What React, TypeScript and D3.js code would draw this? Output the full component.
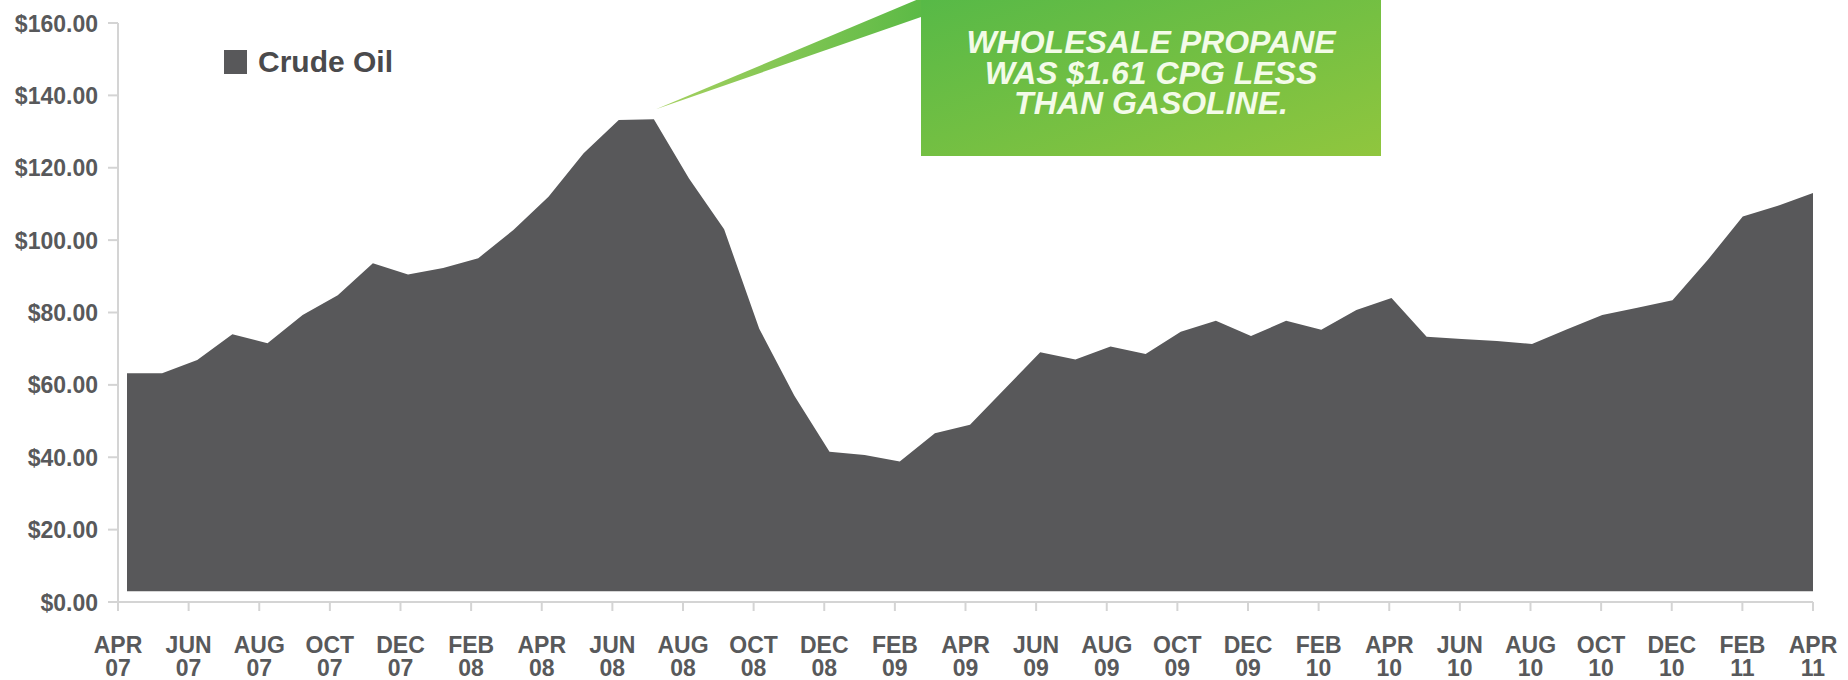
import React from "react";
import * as d3 from "d3";

// ---- data (monthly, APR 2007 .. APR 2011) ----
const CRUDE_OIL: number[] = [
  63.2, 63.2, 66.9, 74.0, 71.5, 79.3, 84.8, 93.6, 90.5, 92.3, 95.0, 102.8,
  112.0, 124.0, 133.2, 133.4, 117.0, 103.0, 75.5, 57.0, 41.5, 40.6, 38.8, 46.6,
  49.0, 59.0, 69.0, 67.0, 70.6, 68.5, 74.7, 77.7, 73.5, 77.7, 75.2, 80.7,
  84.0, 73.3, 72.7, 72.1, 71.3, 75.4, 79.3, 81.3, 83.4, 94.5, 106.5, 109.5,
  113.0,
];
const TICK_MONTHS: string[] = [
  "APR", "JUN", "AUG", "OCT", "DEC", "FEB", "APR", "JUN", "AUG", "OCT", "DEC", "FEB",
  "APR", "JUN", "AUG", "OCT", "DEC", "FEB", "APR", "JUN", "AUG", "OCT", "DEC", "FEB", "APR",
];
const TICK_YEARS: string[] = [
  "07", "07", "07", "07", "07", "08", "08", "08", "08", "08", "08", "09",
  "09", "09", "09", "09", "09", "10", "10", "10", "10", "10", "10", "11", "11",
];
const Y_TICKS: number[] = [0, 20, 40, 60, 80, 100, 120, 140, 160];
const LEGEND_LABEL = "Crude Oil";
const CALLOUT_LINES: string[] = [
  "WHOLESALE PROPANE",
  "WAS $1.61 CPG LESS",
  "THAN GASOLINE.",
];
const CALLOUT_INDEX = 15; // JUL 08 peak
const AREA_BASE = 3;

const W = 1848;
const H = 680;
const FONT = "'Liberation Sans', Arial, Helvetica, sans-serif";
const AREA_COLOR = "#58585a";
const TEXT_COLOR = "#58595b";
const AXIS_COLOR = "#d4d4d4";

export default function App() {
  const n = CRUDE_OIL.length - 1;
  const y = d3.scaleLinear().domain([0, 160]).range([602, 23]);
  const xTick = d3.scaleLinear().domain([0, n]).range([118, 1813]);
  const xData = d3.scaleLinear().domain([0, n]).range([127, 1813]);

  const area = d3
    .area<number>()
    .x((_, i) => xData(i))
    .y0(y(AREA_BASE))
    .y1((d) => y(d))
    .curve(d3.curveLinear);

  const tipX = xData(CALLOUT_INDEX) + 2;
  const tipY = y(CRUDE_OIL[CALLOUT_INDEX]) - 10;
  const box = { x: 921, y: 0, w: 460, h: 156 };
  const boxCx = box.x + box.w / 2;

  return (
    <svg
      width={W}
      height={H}
      viewBox={`0 0 ${W} ${H}`}
      style={{ position: "absolute", left: 0, top: 0, display: "block", background: "#fff" }}
    >
      <defs>
        <linearGradient id="boxGrad" x1="0" y1="0" x2="1" y2="1">
          <stop offset="0" stopColor="#57b947" />
          <stop offset="1" stopColor="#90c63e" />
        </linearGradient>
        <linearGradient id="ptrGrad" x1="0" y1="0" x2="1" y2="0">
          <stop offset="0" stopColor="#a6d160" />
          <stop offset="1" stopColor="#5cba46" />
        </linearGradient>
      </defs>

      {/* area */}
      <path d={area(CRUDE_OIL) || ""} fill={AREA_COLOR} />

      {/* y axis */}
      <line x1={118} x2={118} y1={y(160)} y2={y(0)} stroke={AXIS_COLOR} strokeWidth={2} />
      {Y_TICKS.map((t) => (
        <g key={t}>
          <line x1={108} x2={118} y1={y(t)} y2={y(t)} stroke={AXIS_COLOR} strokeWidth={2} />
          <text
            x={98}
            y={y(t) + 8.5}
            textAnchor="end"
            fontFamily={FONT}
            fontWeight="bold"
            fontSize={23}
            fill={TEXT_COLOR}
          >
            {"$" + t.toFixed(2)}
          </text>
        </g>
      ))}

      {/* x axis */}
      <line x1={118} x2={1813} y1={y(0)} y2={y(0)} stroke={AXIS_COLOR} strokeWidth={2} />
      {TICK_MONTHS.map((m, k) => {
        const xx = xTick(k * 2);
        return (
          <g key={k}>
            <line x1={xx} x2={xx} y1={y(0)} y2={y(0) + 9} stroke={AXIS_COLOR} strokeWidth={2} />
            <text
              x={xx}
              y={653}
              textAnchor="middle"
              fontFamily={FONT}
              fontWeight="bold"
              fontSize={23}
              fill={TEXT_COLOR}
            >
              {m}
            </text>
            <text
              x={xx}
              y={676}
              textAnchor="middle"
              fontFamily={FONT}
              fontWeight="bold"
              fontSize={23}
              fill={TEXT_COLOR}
            >
              {TICK_YEARS[k]}
            </text>
          </g>
        );
      })}

      {/* legend */}
      <rect x={224} y={50} width={23} height={24} fill={AREA_COLOR} />
      <text x={258} y={72} fontFamily={FONT} fontWeight="bold" fontSize={30} fill="#4a4a4c">
        {LEGEND_LABEL}
      </text>

      {/* callout */}
      <polygon
        points={`${tipX},${tipY} ${box.x},${box.y - 2} ${box.x},${box.y + 17}`}
        fill="url(#ptrGrad)"
      />
      <rect x={box.x} y={box.y} width={box.w} height={box.h} fill="url(#boxGrad)" />
      <text
        x={boxCx}
        y={53}
        textAnchor="middle"
        fontFamily={FONT}
        fontWeight="bold"
        fontStyle="italic"
        fontSize={32}
        fill="#f3fbe8"
      >
        {CALLOUT_LINES.map((line, i) => (
          <tspan key={i} x={boxCx} dy={i === 0 ? 0 : 30.5}>
            {line}
          </tspan>
        ))}
      </text>
    </svg>
  );
}
